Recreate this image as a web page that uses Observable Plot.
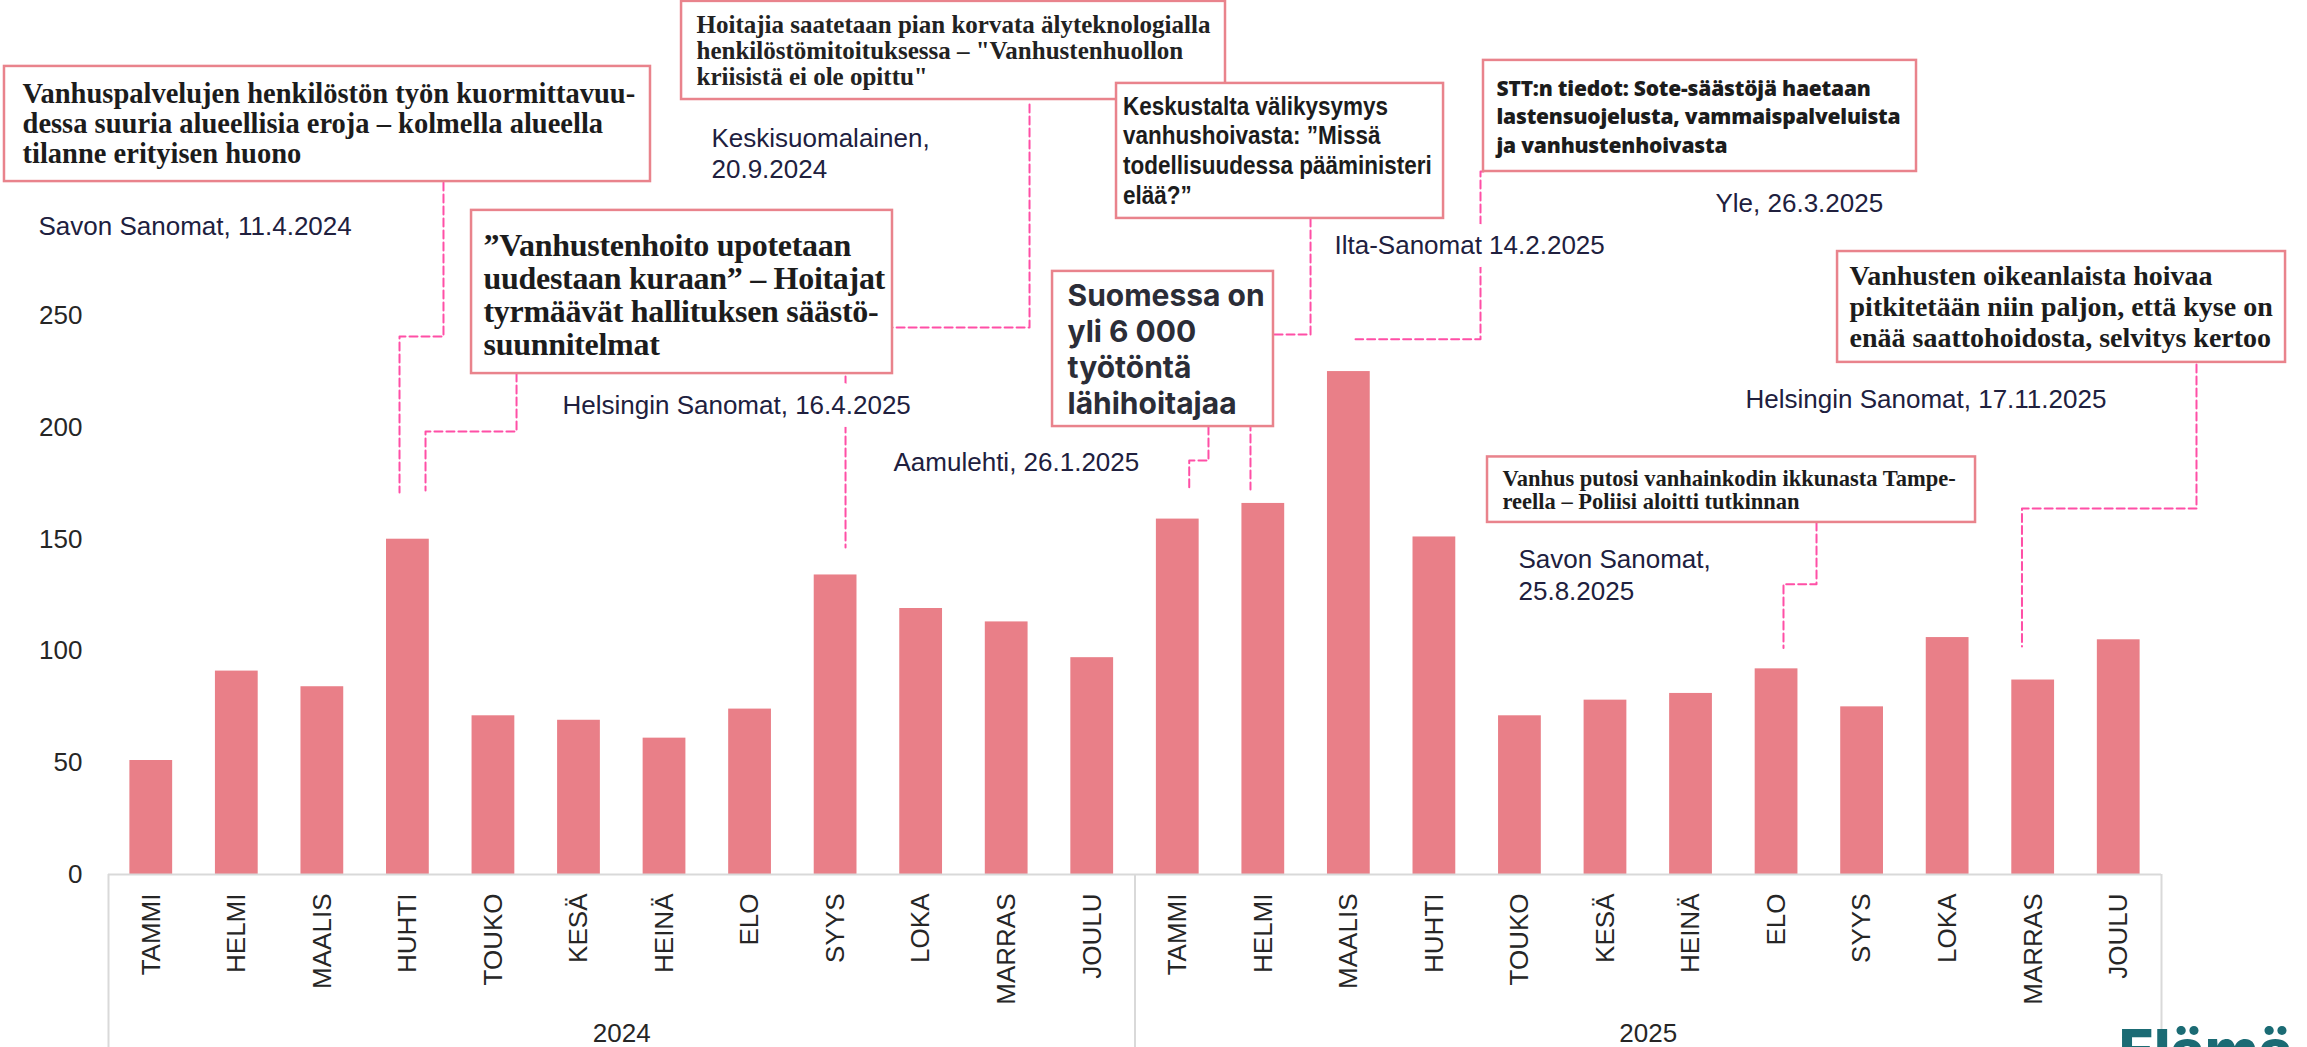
<!DOCTYPE html>
<html lang="fi">
<head>
<meta charset="utf-8">
<title>Vanhustenhoito uutisissa</title>
<script src="https://cdn.jsdelivr.net/npm/d3@7"></script>
<script src="https://cdn.jsdelivr.net/npm/@observablehq/plot@0.6"></script>
<style>
  html, body { margin: 0; padding: 0; background: #fff; overflow: hidden; }
  #chart svg { display: block; }
</style>
</head>
<body>
<div id="chart"></div>
<script>
// ---- data ----
const months = ["TAMMI", "HELMI", "MAALIS", "HUHTI", "TOUKO", "KESÄ", "HEINÄ", "ELO", "SYYS", "LOKA", "MARRAS", "JOULU"];
const years = ["2024", "2025"];
const values2024 = [51, 91, 84, 150, 71, 69, 61, 74, 134, 119, 113, 97];
const values2025 = [159, 166, 225, 151, 71, 78, 81, 92, 75, 106, 87, 105];
const yTicks = [0, 50, 100, 150, 200, 250];

const headlines = [
  ["Vanhuspalvelujen henkilöstön työn kuormittavuu-", "dessa suuria alueellisia eroja – kolmella alueella", "tilanne erityisen huono"],
  ["Hoitajia saatetaan pian korvata älyteknologialla", "henkilöstömitoituksessa – \"Vanhustenhuollon", "kriisistä ei ole opittu\""],
  ["Keskustalta välikysymys", "vanhushoivasta: ”Missä", "todellisuudessa pääministeri", "elää?”"],
  ["Suomessa on", "yli 6 000", "työtöntä", "lähihoitajaa"],
  ["”Vanhustenhoito upotetaan", "uudestaan kuraan” – Hoitajat", "tyrmäävät hallituksen säästö-", "suunnitelmat"],
  ["STT:n tiedot: Sote-säästöjä haetaan", "lastensuojelusta, vammaispalveluista", "ja vanhustenhoivasta"],
  ["Vanhusten oikeanlaista hoivaa", "pitkitetään niin paljon, että kyse on", "enää saattohoidosta, selvitys kertoo"],
  ["Vanhus putosi vanhainkodin ikkunasta Tampe-", "reella – Poliisi aloitti tutkinnan"]
];
const sources = [
  "Savon Sanomat, 11.4.2024",
  "Keskisuomalainen,\n20.9.2024",
  "Helsingin Sanomat, 16.4.2025",
  "Aamulehti, 26.1.2025",
  "Ilta-Sanomat 14.2.2025",
  "Yle, 26.3.2025",
  "Helsingin Sanomat, 17.11.2025",
  "Savon Sanomat,\n25.8.2025"
];
const logoText = "Elämä";

// ---- annotation layout (chart units: x = month slot 0..24, y = value) ----
const serif = "'Liberation Serif', 'Times New Roman', serif";
const boxLayout = [
  {x1: -1.216, x2: 6.336, y1: 310.0, y2: 361.5, tx: -1.005, ty: 318.5, font: serif, size: 28.5, lh: 1.053, weight: 700, color: "#1c1c1c", sx: 1, ls: 0},
  {x1: 6.699, x2: 13.058, y1: 346.7, y2: 390.6, tx: 6.874, ty: 353.4, font: serif, size: 25, lh: 1.04, weight: 700, color: "#222222", sx: 1, ls: 0},
  {x1: 11.784, x2: 15.607, y1: 293.5, y2: 353.9, tx: 11.861, ty: 300.0, font: "'Liberation Sans', Arial, sans-serif", size: 25, lh: 1.19, weight: 700, color: "#1c1c1c", sx: 0.9, ls: 0},
  {x1: 11.036, x2: 13.619, y1: 200.4, y2: 269.8, tx: 11.211, ty: 206.2, font: "Inter, 'Liberation Sans', sans-serif", size: 30, lh: 1.2, weight: 700, color: "#2b2d37", sx: 1, ls: 0},
  {x1: 4.244, x2: 9.165, y1: 224.1, y2: 297.1, tx: 4.384, ty: 232.6, font: serif, size: 32, lh: 1.03, weight: 700, color: "#1c1c1c", sx: 1, ls: -0.3},
  {x1: 16.074, x2: 21.136, y1: 314.5, y2: 364.2, tx: 16.226, ty: 323.0, font: "'Open Sans', sans-serif", size: 21, lh: 1.35, weight: 800, color: "#1c1c1c", sx: 1, ls: -0.2},
  {x1: 20.213, x2: 25.450, y1: 229.1, y2: 278.7, tx: 20.353, ty: 235.8, font: serif, size: 28, lh: 1.107, weight: 700, color: "#1c1c1c", sx: 1, ls: 0},
  {x1: 16.121, x2: 21.826, y1: 157.5, y2: 186.8, tx: 16.296, ty: 163.7, font: serif, size: 22.5, lh: 1.02, weight: 700, color: "#1c1c1c", sx: 1, ls: 0}
];
const sourceLayout = [
  {x: -0.818, y: 285.9},
  {x: 7.049, y: 311.4},
  {x: 5.307, y: 205.8},
  {x: 9.177, y: 180.4},
  {x: 14.332, y: 277.8},
  {x: 18.786, y: 296.2},
  {x: 19.137, y: 208.5},
  {x: 16.483, y: 123.0}
];
const connectors = [
  [[3.916, 309.6], [3.916, 240.7], [3.402, 240.7], [3.402, 170.9]],
  [[4.770, 224.1], [4.770, 198.2], [3.706, 198.2], [3.706, 171.8]],
  [[10.767, 344.5], [10.767, 244.7], [8.616, 244.7], [8.616, 146.3]],
  [[12.859, 200.4], [12.859, 185.2], [12.634, 185.2], [12.634, 172.2]],
  [[14.052, 293.5], [14.052, 241.6], [13.350, 241.6], [13.350, 172.2]],
  [[16.074, 314.5], [16.039, 314.5], [16.039, 239.5], [14.578, 239.5]],
  [[19.967, 157.5], [19.967, 129.9], [19.581, 129.9], [19.581, 101.3]],
  [[24.409, 228.2], [24.409, 163.7], [22.369, 163.7], [22.369, 102.0]]
];

// ---- derived tables ----
const bars = years.flatMap((yr, k) =>
  months.map((m, i) => ({year: yr, month: m, slot: k * 12 + i, value: (k === 0 ? values2024 : values2025)[i]}))
);
const slotCenters = bars.map(d => d.slot + 0.5);
const connectorPts = connectors.flatMap((pts, id) => pts.map(([x, y]) => ({id, x, y})));
const sourceRows = sources.map((text, i) => ({text, ...sourceLayout[i]}));
const notes = headlines.map((lines, i) => ({text: lines.join("\n"), first: lines[0], ...boxLayout[i]}));

const barColor = "#e97f88";
const boxStroke = "#e9838c";
const linkColor = "#ff4fa6";
const gridGray = "#d9d9d9";
const navy = "#20203e";
const ink = "#262626";

const marks = [
  Plot.rectY(bars, {x1: d => d.slot + 0.25, x2: d => d.slot + 0.75, y: "value", fill: barColor}),
  Plot.ruleY([0], {stroke: gridGray, strokeWidth: 2}),
  Plot.ruleX([0, 12, 24], {y1: 0, y2: -90, stroke: gridGray, strokeWidth: 2}),
  Plot.axisY({ticks: yTicks, tickSize: 0, tickPadding: 26, label: null, fill: ink}),
  Plot.axisX({ticks: slotCenters, tickSize: 0, tickPadding: 19, tickRotate: -90,
    tickFormat: d => months[Math.floor(d) % 12], label: null, fill: ink}),
  Plot.text(years, {x: (d, i) => 6 + 12 * i, y: -74.8, text: d => d, lineAnchor: "bottom", fill: ink}),
  Plot.line(connectorPts, {x: "x", y: "y", z: "id", stroke: linkColor, strokeWidth: 2, strokeDasharray: "8,4"}),
  Plot.text(sourceRows, {x: "x", y: "y", text: "text", textAnchor: "start", lineAnchor: "bottom", lineHeight: 1.21,
    fill: navy, stroke: "white", strokeWidth: 26, strokeLinejoin: "round", paintOrder: "stroke"}),
  Plot.rect(notes, {x1: "x1", x2: "x2", y1: "y1", y2: "y2", fill: "white", stroke: boxStroke, strokeWidth: 2.5})
];
for (const n of notes) {
  marks.push(Plot.text([n], {x: "tx", y: "ty", text: "text", textAnchor: "start", lineAnchor: "bottom",
    lineHeight: n.lh, fontSize: n.size, fontFamily: n.font, fontWeight: n.weight, fill: n.color}));
}
marks.push(Plot.text([logoText], {x: 23.5, y: -88, text: d => d, textAnchor: "start", lineAnchor: "bottom",
  fontFamily: "Inter, 'Liberation Sans', sans-serif", fontWeight: 800, fontSize: 58, fill: "#1b6b74"}));

const chart = Plot.plot({
  width: 2307,
  height: 1047,
  marginLeft: 108,
  marginRight: 146,
  marginTop: 0,
  marginBottom: 173,
  x: {domain: [0, 24]},
  y: {domain: [0, 391]},
  style: {fontFamily: "'Liberation Sans', Arial, sans-serif", fontSize: "26px", background: "white", color: ink},
  marks
});

// fine typographic tuning of the headline boxes (condensed news fonts)
const allTexts = Array.from(chart.querySelectorAll("text"));
for (const n of notes) {
  allTexts.filter(t => t.textContent.startsWith(n.first)).forEach(t => {
    if (n.ls) t.style.letterSpacing = n.ls + "px";
    if (n.sx !== 1) {
      const tr = t.getAttribute("transform") || "";
      t.setAttribute("transform", `${tr} scale(${n.sx},1)`);
    }
  });
}
document.getElementById("chart").append(chart);
</script>
</body>
</html>
